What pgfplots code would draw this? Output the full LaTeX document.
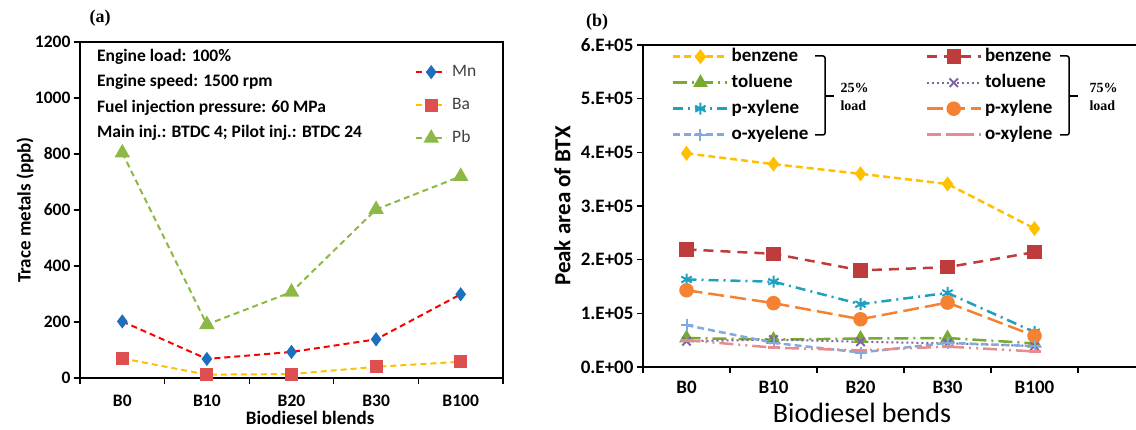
\documentclass[border=0pt]{standalone}
\usepackage{fontspec}
\setmainfont{Carlito}
\newfontfamily\serifb{Liberation Serif}
\usepackage{pgfplots}
\pgfplotsset{compat=1.18}
\definecolor{mnred}{RGB}{255,0,0}
\definecolor{mnblue}{RGB}{30,110,190}
\definecolor{bagold}{RGB}{255,192,0}
\definecolor{bared}{RGB}{222,80,80}
\definecolor{pbgreen}{RGB}{140,185,70}
\definecolor{bz}{RGB}{255,192,0}
\definecolor{tol}{RGB}{120,170,50}
\definecolor{pxa}{RGB}{30,160,190}
\definecolor{oxa}{RGB}{130,170,220}
\definecolor{bzb}{RGB}{190,60,60}
\definecolor{tolb}{RGB}{128,100,162}
\definecolor{pxb}{RGB}{245,130,50}
\definecolor{oxb}{RGB}{230,140,140}
\definecolor{txt}{RGB}{64,64,64}

\begin{document}
\begin{tikzpicture}[x=1pt,y=1pt]
\useasboundingbox (0,0) rectangle (1136,430);
% ---------------- (a) ----------------
\begin{axis}[
  at={(80pt,52pt)}, anchor=south west, scale only axis,
  width=423pt, height=336pt,
  xmin=-0.5, xmax=4.5, ymin=0, ymax=1200,
  xtick={0,1,2,3,4}, xticklabels={B0,B10,B20,B30,B100},
  minor xtick={-0.5,0.5,1.5,2.5,3.5,4.5},
  ytick={0,200,400,600,800,1000,1200},
  major x tick style={draw=none},
  tick align=outside, tick pos=left,
  major tick length=6pt, minor tick length=6pt,
  tick style={black, line width=1.2pt},
  minor tick style={black, line width=1.2pt},
  axis line style={black, line width=1.3pt},
  ticklabel style={font=\fontsize{17.5}{20}\selectfont\bfseries, text=black},
  xticklabel style={yshift=-7pt},
  /pgf/number format/assume math mode=true,
  /pgf/number format/1000 sep={},
  xlabel={Biodiesel blends},
  ylabel={Trace metals (ppb)},
  xlabel style={font=\fontsize{19}{22}\selectfont\bfseries, at={(axis description cs:0.544,-0.119)}, anchor=center},
  ylabel style={font=\fontsize{19}{22}\selectfont\bfseries, at={(axis description cs:-0.130,0.5)}, anchor=center},
  legend style={at={(axis description cs:0.792,0.9345)}, anchor=north west, draw=none, fill=none,
    inner sep=0pt, row sep=17pt, column sep=5pt,
    font=\fontsize{17.5}{20}\selectfont, text=txt,
    nodes={inner sep=0pt, text height=12pt, text depth=4pt}},
  legend cell align=left,
  legend image code/.code={\draw[mark repeat=2,mark phase=2,#1] plot coordinates {(0pt,0pt) (15pt,0pt) (30pt,0pt)};},
]
\addplot[color=mnred, line width=2pt, dash pattern=on 6pt off 4pt, mark=diamond*, mark size=5.5pt,
  mark options={solid, fill=mnblue, draw=mnblue}]
  coordinates {(0,202) (1,68) (2,93) (3,138) (4,299)};
\addlegendentry{Mn}
\addplot[color=bagold, line width=2pt, dash pattern=on 6pt off 4pt, mark=square*, mark size=5.5pt,
  mark options={solid, fill=bared, draw=bared}]
  coordinates {(0,70) (1,12) (2,14) (3,40) (4,58)};
\addlegendentry{Ba}
\addplot[color=pbgreen, line width=2pt, dash pattern=on 6pt off 4pt, mark=triangle*, mark size=7pt,
  mark options={solid, fill=pbgreen, draw=pbgreen}]
  coordinates {(0,804) (1,191) (2,307) (3,602) (4,720)};
\addlegendentry{Pb}
\end{axis}

% ---------------- (b) ----------------
\begin{axis}[
  at={(643pt,63pt)}, anchor=south west, scale only axis,
  width=497pt, height=322pt,
  xmin=-0.5, xmax=5.2126, ymin=0, ymax=6,
  xtick={0,1,2,3,4}, xticklabels={B0,B10,B20,B30,B100},
  minor xtick={-0.5,0.5,1.5,2.5,3.5,4.5},
  ytick={0,1,2,3,4,5,6},
  yticklabels={0.E+00,1.E+05,2.E+05,3.E+05,4.E+05,5.E+05,6.E+05},
  major x tick style={draw=none},
  tick align=outside, tick pos=left,
  major tick length=6pt, minor tick length=6pt,
  tick style={black, line width=1.2pt},
  minor tick style={black, line width=1.2pt},
  axis line style={black, line width=1.3pt},
  ticklabel style={font=\fontsize{19}{22}\selectfont\bfseries, text=black},
  xticklabel style={yshift=-5pt},
  xlabel={Biodiesel bends},
  ylabel={Peak area of BTX},
  xlabel style={font=\fontsize{28}{30}\selectfont, at={(axis description cs:0.4406,-0.143)}, anchor=center},
  ylabel style={font=\fontsize{23}{26}\selectfont\bfseries, at={(axis description cs:-0.162,0.5)}, anchor=center},
  legend columns=2,
  legend style={at={(axis description cs:0.0584,0.9907)}, anchor=north west, draw=none, fill=none,
    inner sep=0pt, row sep=9pt, column sep=3pt,
    font=\fontsize{19}{22}\selectfont\bfseries, text=black,
    nodes={inner sep=0pt, text height=13pt, text depth=4pt},
    /tikz/every even column/.append style={column sep=117pt}},
  legend cell align=left,
  legend image code/.code={\draw[mark repeat=2,mark phase=2,#1] plot coordinates {(0pt,0pt) (27pt,0pt) (54pt,0pt)};},
]
\addplot[color=bz, line width=2.5pt, dash pattern=on 7pt off 4pt, mark=diamond*, mark size=5.5pt,
  mark options={solid, fill=bz}]
  coordinates {(0,3.98) (1,3.78) (2,3.60) (3,3.41) (4,2.58)};
\addlegendentry{benzene}
\addplot[color=bzb, line width=2.5pt, dash pattern=on 10pt off 7pt, mark=square*, mark size=6pt,
  mark options={solid, fill=bzb}]
  coordinates {(0,2.19) (1,2.11) (2,1.80) (3,1.86) (4,2.14)};
\addlegendentry{benzene}
\addplot[color=tol, line width=2.5pt, dash pattern=on 14pt off 5pt on 2pt off 5pt, mark=triangle*, mark size=6pt,
  mark options={solid, fill=tol}]
  coordinates {(0,0.54) (1,0.51) (2,0.53) (3,0.54) (4,0.44)};
\addlegendentry{toluene}
\addplot[color=tolb, line width=2pt, dash pattern=on 2pt off 3pt, mark=x, mark size=6pt,
  mark options={solid, line width=2pt}]
  coordinates {(0,0.48) (1,0.51) (2,0.47) (3,0.44) (4,0.39)};
\addlegendentry{toluene}
\addplot[color=pxa, line width=2.5pt, dash pattern=on 10pt off 5pt on 2pt off 5pt, mark=asterisk, mark size=6pt,
  mark options={solid, line width=2pt}]
  coordinates {(0,1.63) (1,1.59) (2,1.17) (3,1.38) (4,0.65)};
\addlegendentry{p-xylene}
\addplot[color=pxb, line width=2.5pt, dash pattern=on 16pt off 6pt, mark=*, mark size=6pt,
  mark options={solid, fill=pxb}]
  coordinates {(0,1.43) (1,1.19) (2,0.89) (3,1.20) (4,0.58)};
\addlegendentry{p-xylene}
\addplot[color=oxa, line width=2.5pt, dash pattern=on 7pt off 4pt, mark=+, mark size=6pt,
  mark options={solid, line width=2pt}]
  coordinates {(0,0.78) (1,0.45) (2,0.27) (3,0.45) (4,0.39)};
\addlegendentry{o-xyelene}
\addplot[color=oxb, line width=2.5pt, dash pattern=on 14pt off 5pt on 2pt off 5pt on 2pt off 5pt, mark=-, mark size=6pt,
  mark options={solid, line width=3pt}]
  coordinates {(0,0.50) (1,0.36) (2,0.31) (3,0.38) (4,0.29)};
\addlegendentry{o-xylene}
\end{axis}

% panel tags
\node[font=\serifb\fontsize{18}{20}\selectfont\bfseries] at (100,412) {(a)};
\node[font=\serifb\fontsize{18}{20}\selectfont\bfseries] at (597,408) {(b)};

% annotations in (a)
\begin{scope}[every node/.style={anchor=west, font=\fontsize{17.5}{20}\selectfont\bfseries, text=black, inner sep=0pt}]
\node at (97,373) {Engine load: 100\%};
\node at (97,348) {Engine speed: 1500 rpm};
\node at (97,322) {Fuel injection pressure: 60 MPa};
\node at (97,297) {Main inj.: BTDC 4; Pilot inj.: BTDC 24};
\end{scope}

% brackets
\draw[line width=1.5pt, rounded corners=2pt] (815,374) -- (825,374) -- (825,295) -- (815,295);
\draw[line width=1.5pt] (825,334) -- (834,334);
\node[anchor=west, font=\serifb\fontsize{14}{16}\selectfont\bfseries] at (837,342) {25\%};
\node[anchor=west, font=\serifb\fontsize{14}{16}\selectfont\bfseries] at (837,324) {load};
\draw[line width=1.5pt, rounded corners=2pt] (1060,374) -- (1069,374) -- (1069,295) -- (1060,295);
\draw[line width=1.5pt] (1069,334) -- (1078,334);
\node[anchor=west, font=\serifb\fontsize{14}{16}\selectfont\bfseries] at (1086,342) {75\%};
\node[anchor=west, font=\serifb\fontsize{14}{16}\selectfont\bfseries] at (1086,324) {load};
\end{tikzpicture}
\end{document}
